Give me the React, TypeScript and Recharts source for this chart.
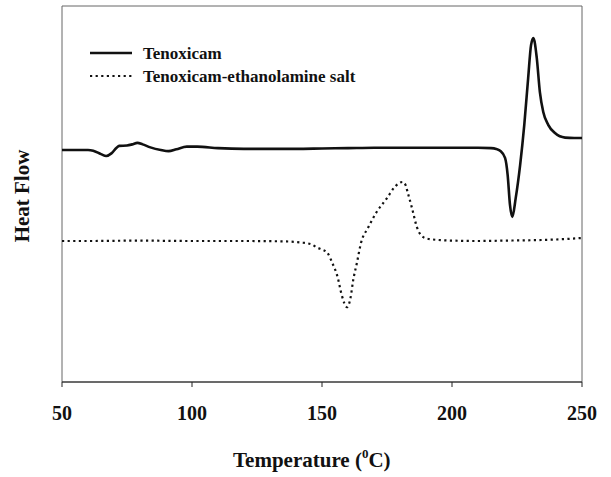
import React from "react";
import { LineChart, Line, XAxis, YAxis, ReferenceArea } from "recharts";

const xTicks = [50, 100, 150, 200, 250];

const tenoxicamT = [50, 55, 60, 62, 65, 67, 69, 71, 72, 75, 77, 79, 81, 84, 88, 91, 94, 98, 102, 110, 120, 130, 140, 150, 160, 170, 180, 190, 200, 210, 215, 217, 218.5, 220.4, 221.4, 222.3, 223.2, 224.5, 226.2, 227.8, 229.3, 230.4, 231.3, 232.6, 233.8, 235.1, 237, 239.6, 243.5, 247, 250];
const tenoxicamV = [61.7, 61.7, 61.7, 61.5, 60.6, 60.1, 60.8, 62.3, 62.8, 62.9, 63.2, 63.6, 63.2, 62.4, 61.7, 61.4, 61.9, 62.6, 62.6, 62.2, 62.0, 62.0, 62.0, 62.1, 62.2, 62.3, 62.3, 62.3, 62.3, 62.3, 62.2, 62.0, 61.5, 59.6, 55.1, 47.1, 43.9, 48.9, 57.7, 68.4, 80.9, 89.6, 91.5, 86.2, 77.1, 71.8, 68.4, 66.2, 65.0, 64.9, 64.9];

const saltT = [50, 60, 80, 100, 120, 135, 142, 146, 148, 150, 152, 154, 156, 157.6, 159.6, 161, 162, 163.4, 165, 167.7, 171, 175, 178, 181, 182, 183, 184.6, 186.5, 188.8, 191.5, 200, 210, 220, 230, 240, 250];
const saltV = [37.5, 37.5, 37.6, 37.5, 37.5, 37.4, 37.1, 36.6, 35.8, 35.2, 34.4, 31.6, 27.9, 23.1, 19.9, 22.5, 27.1, 31.6, 37.0, 41.0, 45.2, 48.9, 51.9, 53.2, 52.6, 50.3, 46.3, 41.2, 38.6, 38.0, 37.6, 37.5, 37.6, 37.7, 37.9, 38.3];

const seriesNames = ["Tenoxicam", "Tenoxicam-ethanolamine salt"];
const xTitle = "Temperature (";
const yTitle = "Heat Flow";

const tenoxicamData = tenoxicamT.map((t, i) => ({ t, v: tenoxicamV[i] }));
const saltData = saltT.map((t, i) => ({ t, v: saltV[i] }));

const FONT = "'Liberation Serif', 'Times New Roman', serif";
const DOTS = "2.2 3.4";

const Annotations = () => (
  <g>
    <text x={233} y={467} fontFamily={FONT} fontWeight="bold" fontSize={21} fill="#111">
      {xTitle}
      <tspan fontSize={13} dy={-9}>0</tspan>
      <tspan dy={9}>C)</tspan>
    </text>
    <text
      x={29}
      y={196}
      transform="rotate(-90 29 196)"
      textAnchor="middle"
      fontFamily={FONT}
      fontWeight="bold"
      fontSize={21}
      fill="#111"
    >
      {yTitle}
    </text>
    {seriesNames.map((name, i) => (
      <g key={name}>
        <line
          x1={90}
          x2={132}
          y1={53 + i * 23}
          y2={53 + i * 23}
          stroke="#111"
          strokeWidth={i === 0 ? 2.6 : 2.2}
          strokeDasharray={i === 0 ? undefined : DOTS}
        />
        <text x={143} y={59 + i * 23} fontFamily={FONT} fontWeight="bold" fontSize={17} fill="#111">
          {name}
        </text>
      </g>
    ))}
  </g>
);

export default function App() {
  return (
    <div style={{ position: "absolute", left: 0, top: 0, background: "#fff" }}>
      <LineChart width={611} height={477} margin={{ top: 6, right: 29, bottom: 55, left: 62 }}>
        <ReferenceArea x1={50} x2={250} y1={0} y2={100} fill="none" stroke="#666" strokeWidth={1} ifOverflow="visible" />
        <XAxis
          type="number"
          dataKey="t"
          domain={[50, 250]}
          ticks={xTicks}
          allowDataOverflow
          height={40}
          tickSize={5}
          tickMargin={19}
          stroke="#222"
          tickLine={{ stroke: "#222" }}
          tick={{ fontFamily: FONT, fontWeight: "bold", fontSize: 20, fill: "#111" }}
          label={{ content: () => <Annotations /> }}
        />
        <YAxis type="number" domain={[0, 100]} width={0} tick={false} tickLine={false} stroke="#222" />
        <Line
          data={tenoxicamData}
          dataKey="v"
          name={seriesNames[0]}
          type="monotone"
          stroke="#111"
          strokeWidth={2.6}
          dot={false}
          isAnimationActive={false}
        />
        <Line
          data={saltData}
          dataKey="v"
          name={seriesNames[1]}
          type="monotone"
          stroke="#111"
          strokeWidth={2.2}
          strokeDasharray={DOTS}
          dot={false}
          isAnimationActive={false}
        />
      </LineChart>
    </div>
  );
}
